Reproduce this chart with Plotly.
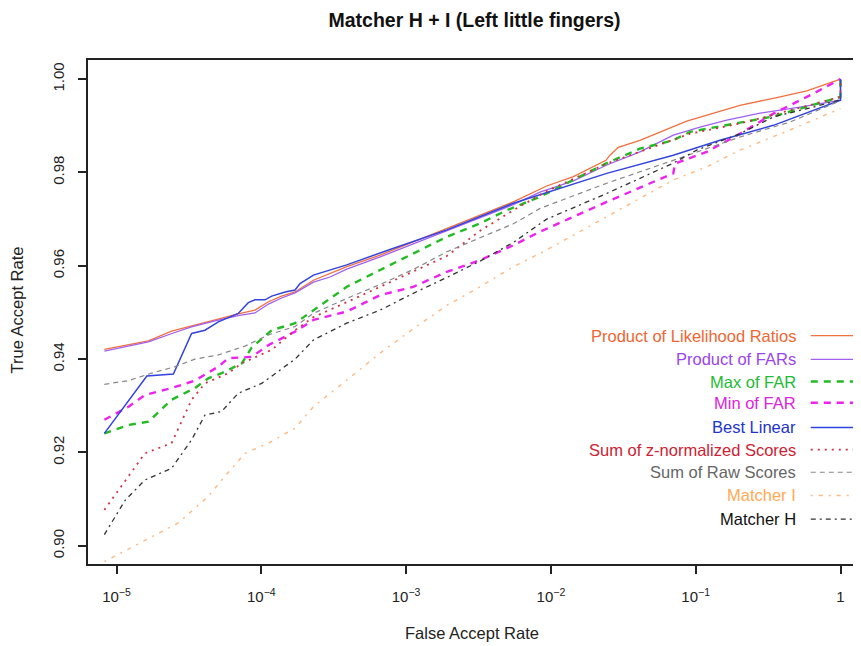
import plotly.graph_objects as go

# ---------------- data (FAR, TAR) ----------------
plr_x = [8.24e-6, 1.15e-5, 1.66e-5, 2.40e-5, 3.30e-5, 4.79e-5, 6.93e-5, 9.04e-5, 1.12e-4, 1.38e-4, 1.71e-4, 2.29e-4, 3.89e-4, 6.61e-4, 1.12e-3, 1.91e-3, 3.24e-3, 5.50e-3, 9.35e-3, 1.43e-2, 2.40e-2, 2.56e-2, 2.92e-2, 4.12e-2, 8.67e-2, 0.202, 0.344, 0.585, 1.0]
plr_y = [0.9421, 0.9430, 0.9439, 0.9460, 0.9471, 0.9485, 0.9497, 0.9505, 0.9523, 0.9535, 0.9544, 0.9569, 0.9598, 0.9623, 0.9651, 0.9680, 0.9709, 0.9737, 0.9771, 0.9791, 0.9826, 0.9837, 0.9854, 0.9869, 0.9910, 0.9944, 0.9959, 0.9975, 1.0]

pfar_x = [8.24e-6, 1.15e-5, 1.66e-5, 2.47e-5, 3.30e-5, 4.79e-5, 6.93e-5, 9.04e-5, 1.12e-4, 1.38e-4, 1.71e-4, 2.29e-4, 2.98e-4, 3.89e-4, 6.61e-4, 1.12e-3, 1.91e-3, 3.24e-3, 5.50e-3, 8.41e-3, 1.43e-2, 2.43e-2, 4.12e-2, 7.00e-2, 0.107, 0.164, 0.278, 0.525, 1.0, 1.0]
pfar_y = [0.9417, 0.9426, 0.9437, 0.9456, 0.9469, 0.9482, 0.9493, 0.9499, 0.9518, 0.9531, 0.9542, 0.9565, 0.9576, 0.9593, 0.9619, 0.9647, 0.9675, 0.9703, 0.9731, 0.9758, 0.9782, 0.9816, 0.9844, 0.9880, 0.9897, 0.9912, 0.9927, 0.9940, 0.9955, 1.0]

maxf_x = [8.24e-6, 1.21e-5, 1.66e-5, 2.40e-5, 3.48e-5, 4.31e-5, 5.33e-5, 7.33e-5, 8.59e-5, 1.18e-4, 1.71e-4, 2.29e-4, 3.89e-4, 6.61e-4, 1.12e-3, 1.91e-3, 3.24e-3, 4.95e-3, 8.41e-3, 2.43e-2, 4.12e-2, 7.00e-2, 9.14e-2, 0.344, 1.0, 1.0]
maxf_y = [0.9241, 0.9259, 0.9266, 0.9313, 0.9338, 0.9359, 0.9370, 0.9391, 0.9425, 0.9462, 0.9477, 0.9505, 0.9555, 0.9591, 0.9627, 0.9662, 0.9691, 0.9719, 0.9748, 0.9820, 0.9851, 0.9869, 0.9887, 0.9920, 0.9962, 1.0]

minf_x = [8.24e-6, 1.21e-5, 1.57e-5, 2.40e-5, 3.48e-5, 5.05e-5, 5.92e-5, 8.59e-5, 1.12e-4, 1.71e-4, 2.29e-4, 3.89e-4, 6.61e-4, 1.12e-3, 1.91e-3, 3.24e-3, 5.50e-3, 8.41e-3, 2.43e-2, 4.83e-2, 7.00e-2, 7.19e-2, 0.119, 0.202, 0.344, 0.649, 1.0]
minf_y = [0.9270, 0.9298, 0.9323, 0.9338, 0.9354, 0.9384, 0.9402, 0.9405, 0.9430, 0.9459, 0.9484, 0.9502, 0.9537, 0.9555, 0.9587, 0.9612, 0.9644, 0.9673, 0.9737, 0.9777, 0.9798, 0.9819, 0.9844, 0.9883, 0.9926, 0.9969, 1.0]

blin_x = [8.24e-6, 1.15e-5, 1.62e-5, 2.47e-5, 3.30e-5, 4.08e-5, 5.05e-5, 6.93e-5, 8.13e-5, 9.04e-5, 1.06e-4, 1.18e-4, 1.46e-4, 1.71e-4, 1.85e-4, 2.29e-4, 3.89e-4, 7.74e-4, 1.91e-3, 5.50e-3, 9.35e-3, 2.43e-2, 7.00e-2, 0.147, 0.344, 1.0, 1.0]
blin_y = [0.9241, 0.9302, 0.9364, 0.9368, 0.9455, 0.9462, 0.9480, 0.9498, 0.9521, 0.9527, 0.9527, 0.9535, 0.9544, 0.9548, 0.9562, 0.9580, 0.9602, 0.9635, 0.9677, 0.9734, 0.9757, 0.9798, 0.9837, 0.9869, 0.9901, 0.9955, 1.0]

zsum_x = [8.24e-6, 1.15e-5, 1.57e-5, 2.40e-5, 3.30e-5, 4.08e-5, 5.92e-5, 7.33e-5, 1.18e-4, 1.71e-4, 2.29e-4, 3.89e-4, 6.61e-4, 1.12e-3, 1.91e-3, 3.24e-3, 5.50e-3, 9.35e-3, 2.43e-2, 9.14e-2, 0.202, 0.448, 1.0, 1.0]
zsum_y = [0.9077, 0.9141, 0.9198, 0.9220, 0.9313, 0.9348, 0.9370, 0.9391, 0.9420, 0.9462, 0.9490, 0.9522, 0.9555, 0.9587, 0.9621, 0.9675, 0.9719, 0.9760, 0.9819, 0.9883, 0.9905, 0.9933, 0.9962, 1.0]

raw_x = [8.24e-6, 1.21e-5, 1.75e-5, 2.54e-5, 3.48e-5, 5.05e-5, 7.71e-5, 1.12e-4, 1.71e-4, 2.29e-4, 3.89e-4, 6.61e-4, 1.12e-3, 1.91e-3, 3.24e-3, 5.50e-3, 8.41e-3, 2.43e-2, 7.00e-2, 0.119, 0.202, 0.448, 1.0]
raw_y = [0.9346, 0.9354, 0.9370, 0.9384, 0.9400, 0.9409, 0.9428, 0.9452, 0.9470, 0.9498, 0.9530, 0.9560, 0.9592, 0.9630, 0.9660, 0.9690, 0.9723, 0.9777, 0.9826, 0.9851, 0.9876, 0.9908, 0.9954]

mi_x = [8.24e-6, 1.75e-5, 2.67e-5, 4.31e-5, 5.33e-5, 7.71e-5, 1.12e-4, 1.71e-4, 2.29e-4, 3.89e-4, 6.61e-4, 1.12e-3, 1.91e-3, 3.24e-3, 5.50e-3, 9.35e-3, 2.43e-2, 7.00e-2, 0.119, 0.202, 0.448, 1.0]
mi_y = [0.8966, 0.9020, 0.9049, 0.9106, 0.9141, 0.9198, 0.9220, 0.9252, 0.9298, 0.9355, 0.9413, 0.9465, 0.9515, 0.9555, 0.9598, 0.9634, 0.9705, 0.9784, 0.9812, 0.9848, 0.9891, 0.9937]

mh_x = [8.24e-6, 1.15e-5, 1.57e-5, 2.40e-5, 3.30e-5, 4.08e-5, 5.33e-5, 6.93e-5, 1.007e-4, 1.38e-4, 1.71e-4, 2.29e-4, 3.89e-4, 6.61e-4, 1.12e-3, 1.91e-3, 3.24e-3, 5.50e-3, 9.35e-3, 2.43e-2, 4.12e-2, 7.00e-2, 0.1016, 0.202, 0.344, 0.649, 1.0]
mh_y = [0.9024, 0.9098, 0.9141, 0.9166, 0.9227, 0.9280, 0.9288, 0.9327, 0.9348, 0.9380, 0.9400, 0.9441, 0.9477, 0.9505, 0.9541, 0.9575, 0.9610, 0.9650, 0.9700, 0.9755, 0.9787, 0.9820, 0.9848, 0.9883, 0.9919, 0.9940, 0.9956]

x_tickvals = [1e-5, 1e-4, 1e-3, 1e-2, 1e-1, 1]
x_ticktext = ["10<sup>−5</sup>", "10<sup>−4</sup>", "10<sup>−3</sup>", "10<sup>−2</sup>", "10<sup>−1</sup>", "1"]
y_tickvals = [0.90, 0.92, 0.94, 0.96, 0.98, 1.00]
y_ticktext = ["0.90", "0.92", "0.94", "0.96", "0.98", "1.00"]

# name, x, y, line colour, text colour, width, dash
series = [
    ("Product of Likelihood Ratios", plr_x, plr_y, "#F0703F", "#EE6633", 1.3, "solid"),
    ("Product of FARs", pfar_x, pfar_y, "#A060F0", "#9944EE", 1.3, "solid"),
    ("Max of FAR", maxf_x, maxf_y, "#22BB22", "#22BB33", 2.4, "7px,6px"),
    ("Min of FAR", minf_x, minf_y, "#EE22EE", "#DD22DD", 2.4, "7px,6px"),
    ("Best Linear", blin_x, blin_y, "#3344DD", "#2233CC", 1.5, "solid"),
    ("Sum of z-normalized Scores", zsum_x, zsum_y, "#CC3344", "#CC2233", 1.8, "2px,5px"),
    ("Sum of Raw Scores", raw_x, raw_y, "#888888", "#666666", 1.2, "5px,4px"),
    ("Matcher I", mi_x, mi_y, "#FFB880", "#FFAA55", 1.4, "2px,6px,4px,6px"),
    ("Matcher H", mh_x, mh_y, "#333333", "#111111", 1.3, "5px,4px,2px,4px"),
]

FONT = "Liberation Sans, Arial, Helvetica, sans-serif"

# the page body has an 8px margin; size the figure so the plot box lands where the reference has it
W, H = 853, 638

fig = go.Figure()
for name, xs, ys, col, tcol, w, dash in series:
    fig.add_trace(go.Scatter(x=xs, y=ys, mode="lines", name=name,
                             line=dict(color=col, width=w, dash=dash),
                             showlegend=False))

# R-style legend: right-aligned text with line samples on the right
row_y = [0.453, 0.406, 0.362, 0.320, 0.271, 0.227, 0.182, 0.136, 0.089]
for (name, xs, ys, col, tcol, w, dash), ry in zip(series, row_y):
    fig.add_annotation(xref="paper", yref="paper", x=0.9185, y=ry, text=name,
                       showarrow=False, xanchor="right", yanchor="middle",
                       font=dict(family=FONT, size=16.5, color=tcol))
    fig.add_shape(type="line", xref="paper", yref="paper", x0=0.935, x1=0.992,
                  y0=ry, y1=ry, line=dict(color=col, width=w, dash=dash))

fig.add_annotation(xref="paper", yref="paper", x=0.497, y=-0.137, text="False Accept Rate",
                   showarrow=False, xanchor="center", yanchor="middle",
                   font=dict(family=FONT, size=16.5, color="#222222"))
fig.add_annotation(xref="paper", yref="paper", x=-0.0906, y=0.505, text="True Accept Rate",
                   showarrow=False, xanchor="center", yanchor="middle", textangle=-90,
                   font=dict(family=FONT, size=16.5, color="#222222"))

fig.update_layout(
    width=W, height=H,
    margin=dict(l=80, r=0, t=52, b=82),
    paper_bgcolor="white", plot_bgcolor="white",
    title=dict(text="<b>Matcher H + I (Left little fingers)</b>", x=0.5, xref="paper",
               y=1 - 12 / H, yanchor="middle", yref="container",
               font=dict(family=FONT, size=19.5, color="#111111")),
    font=dict(family=FONT, size=15, color="#222222"),
    xaxis=dict(type="log", range=[-5.197, 0.1416], tickvals=x_tickvals, ticktext=x_ticktext,
               showgrid=False, zeroline=False, showline=True, linecolor="#222222", linewidth=2,
               mirror=True, ticks="outside", ticklen=8, tickwidth=1.5, tickcolor="#222222",
               ticklabelstandoff=10, tickfont=dict(family=FONT, size=15, color="#222222")),
    yaxis=dict(range=[0.8961, 1.0041], tickvals=y_tickvals, ticktext=y_ticktext,
               showgrid=False, zeroline=False, showline=True, linecolor="#222222", linewidth=2,
               mirror=False, ticks="outside", ticklen=8, tickwidth=1.5, tickcolor="#222222",
               tickangle=-90, ticklabelstandoff=8,
               tickfont=dict(family=FONT, size=15, color="#222222")),
)

fig.write_html("out.html")
